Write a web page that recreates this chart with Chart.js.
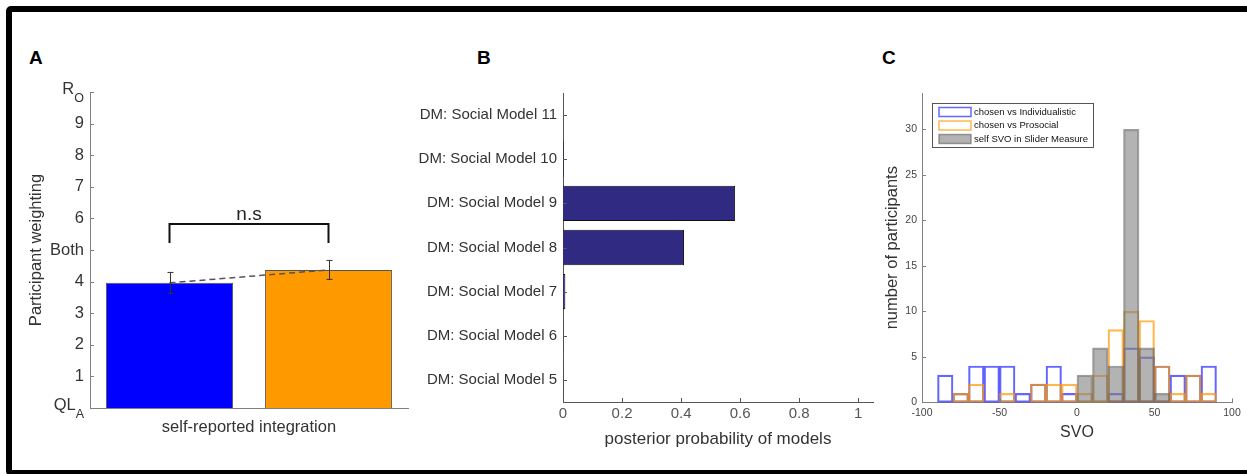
<!DOCTYPE html>
<html>
<head>
<meta charset="utf-8">
<script src="https://cdn.jsdelivr.net/npm/chart.js@4.4.1/dist/chart.umd.min.js"></script>
<style>
  body { margin: 0; background: #fff; width: 1247px; height: 474px; overflow: hidden; position: relative;
         font-family: "Liberation Sans", Arial, sans-serif; }
  .frame { position: absolute; left: 6px; top: 6px; width: 1300px; height: 470px; box-sizing: border-box;
           border: 6px solid #000; border-radius: 5px; }
  .letter { position: absolute; top: 48px; font-weight: bold; font-size: 19px; line-height: 19px; color: #000; }
  canvas { position: absolute; top: 0; }
</style>
</head>
<body>
<div class="frame"></div>
<div class="letter" style="left:29px">A</div>
<div class="letter" style="left:477px">B</div>
<div class="letter" style="left:882px">C</div>
<canvas id="chartA" width="412" height="474" style="left:0px"></canvas>
<canvas id="chartB" width="470" height="474" style="left:410px"></canvas>
<canvas id="chartC" width="367" height="474" style="left:880px"></canvas>

<script>
// ---- panel A: self-reported integration
const catsA = ["chosen vs Individualistic", "chosen vs Prosocial"];
const meansA = [3.96, 4.37];
const errA = [0.33, 0.30];
const yTicksA = ["QL", "1", "2", "3", "4", "Both", "6", "7", "8", "9", "R"];
const ySubsA = ["A", "", "", "", "", "", "", "", "", "", "O"];
const bracketA = [5.22, 5.82];
const sigTextA = "n.s";

// ---- panel B: posterior probability of models
const modelsB = ["DM: Social Model 11", "DM: Social Model 10", "DM: Social Model 9", "DM: Social Model 8",
                 "DM: Social Model 7", "DM: Social Model 6", "DM: Social Model 5"];
const probsB = [0, 0.003, 0.583, 0.41, 0.008, 0.001, 0.001];

// ---- panel C: SVO histograms (bins of 10 from -100 to 100)
const binsC = [-95, -85, -75, -65, -55, -45, -35, -25, -15, -5, 5, 15, 25, 35, 45, 55, 65, 75, 85, 95];
const individualisticC = [0, 3, 1, 4, 4, 4, 1, 2, 4, 1, 0, 0, 1, 6, 5, 4, 3, 3, 4, 0];
const prosocialC       = [0, 0, 1, 2, 0, 1, 0, 2, 2, 2, 1, 3, 8, 10, 9, 4, 1, 3, 1, 0];
const selfSvoC         = [0, 0, 0, 0, 0, 0, 0, 0, 0, 0, 3, 6, 4, 30, 6, 1, 0, 0, 0, 0];
const seriesNamesC = ["chosen vs Individualistic", "chosen vs Prosocial", "self SVO in Slider Measure"];

const FONT = "'Liberation Sans', Arial, sans-serif";
Chart.defaults.font.family = FONT;

// matlab style ticks pointing into the plot
const innerTicks = {
  id: "innerTicks",
  afterDatasetsDraw(chart, args, opts) {
    const ctx = chart.ctx;
    const len = opts.len || 4;
    ctx.save();
    ctx.lineWidth = 1;
    Object.values(chart.scales).forEach(s => {
      if (opts[s.id] === false) return;
      ctx.strokeStyle = s.options.border.color;
      s.ticks.forEach((t, i) => {
        const p = Math.round(s.getPixelForTick(i)) + 0.5;
        ctx.beginPath();
        if (s.isHorizontal()) {
          ctx.moveTo(p, s.top);
          ctx.lineTo(p, s.top - len);
        } else {
          ctx.moveTo(s.right, p);
          ctx.lineTo(s.right + len, p);
        }
        ctx.stroke();
      });
    });
    ctx.restore();
  }
};

// error bars, bracket and the y labels with subscripts
const panelAExtras = {
  id: "panelAExtras",
  afterDatasetsDraw(chart) {
    const ctx = chart.ctx;
    const y = chart.scales.y;
    const bars = chart.getDatasetMeta(0).data;
    ctx.save();
    ctx.strokeStyle = "#333";
    ctx.lineWidth = 1;
    bars.forEach((b, i) => {
      const x = Math.round(b.x) + 0.5;
      const top = y.getPixelForValue(meansA[i] + errA[i]);
      const bot = y.getPixelForValue(meansA[i] - errA[i]);
      ctx.beginPath();
      ctx.moveTo(x, top); ctx.lineTo(x, bot);
      ctx.moveTo(x - 3, top); ctx.lineTo(x + 3, top);
      ctx.moveTo(x - 3, bot); ctx.lineTo(x + 3, bot);
      ctx.stroke();
    });
    // significance bracket
    const x1 = bars[0].x, x2 = bars[1].x;
    const yTop = y.getPixelForValue(bracketA[1]);
    const yLeg = y.getPixelForValue(bracketA[0]);
    ctx.strokeStyle = "#111";
    ctx.lineWidth = 2;
    ctx.beginPath();
    ctx.moveTo(x1, yLeg); ctx.lineTo(x1, yTop); ctx.lineTo(x2, yTop); ctx.lineTo(x2, yLeg);
    ctx.stroke();
    ctx.fillStyle = "#222";
    ctx.font = "19px " + FONT;
    ctx.textAlign = "center";
    ctx.textBaseline = "alphabetic";
    ctx.fillText(sigTextA, (x1 + x2) / 2, yTop - 4);
    ctx.restore();
  },
  afterDraw(chart) {
    const ctx = chart.ctx;
    const y = chart.scales.y;
    const xr = y.right - 6;
    ctx.save();
    ctx.fillStyle = "#333";
    ctx.textAlign = "right";
    ctx.textBaseline = "middle";
    yTicksA.forEach((lab, v) => {
      const py = y.getPixelForValue(v);
      const sub = ySubsA[v];
      if (sub) {
        ctx.font = "12.5px " + FONT;
        const sw = ctx.measureText(sub).width;
        ctx.fillText(sub, xr, py + 7);
        ctx.font = "16.5px " + FONT;
        ctx.fillText(lab, xr - sw, py - 3);
      } else {
        ctx.font = "16.5px " + FONT;
        ctx.fillText(lab, xr, py);
      }
    });
    ctx.restore();
  }
};

const noGrid = { display: false, drawTicks: false };

new Chart(document.getElementById("chartA"), {
  type: "bar",
  data: {
    labels: catsA,
    datasets: [
      { type: "bar", data: meansA, backgroundColor: ["#0000ff", "#ff9900"], borderColor: "#555",
        borderWidth: 1, barPercentage: 0.8, categoryPercentage: 1, order: 2 },
      { type: "line", data: meansA, borderColor: "#555", borderWidth: 1.5, borderDash: [6, 4],
        pointRadius: 0, order: 1 }
    ]
  },
  options: {
    responsive: false,
    animation: false,
    layout: { padding: { left: 27, right: 4, top: 92, bottom: 37 } },
    plugins: { legend: { display: false }, tooltip: { enabled: false }, innerTicks: { x: false } },
    scales: {
      x: {
        grid: noGrid,
        border: { color: "#808080" },
        ticks: { display: false },
        title: { display: true, text: "self-reported integration", font: { size: 16.5 }, color: "#333", padding: 0 },
        afterFit(s) { s.height = 29; }
      },
      y: {
        min: 0, max: 10,
        ticks: { display: false, stepSize: 1 },
        grid: noGrid,
        border: { color: "#808080" },
        title: { display: true, text: "Participant weighting", font: { size: 16.5 }, color: "#333", padding: 0 },
        afterFit(s) { s.width = 63; }
      }
    }
  },
  plugins: [innerTicks, panelAExtras]
});

new Chart(document.getElementById("chartB"), {
  type: "bar",
  data: {
    labels: modelsB,
    datasets: [{
      data: probsB, backgroundColor: "#312a82", borderColor: "#111", borderWidth: 1,
      barPercentage: 0.8, categoryPercentage: 1
    }]
  },
  options: {
    indexAxis: "y",
    responsive: false,
    animation: false,
    layout: { padding: { left: 0, right: 7, top: 93, bottom: 24 } },
    plugins: { legend: { display: false }, tooltip: { enabled: false } },
    scales: {
      y: {
        grid: noGrid,
        border: { color: "#555" },
        ticks: { color: "#333", font: { size: 15 }, padding: 6 },
        afterFit(s) { s.width = 153; }
      },
      x: {
        min: 0, max: 1.05,
        ticks: { stepSize: 0.2, includeBounds: false, color: "#555", font: { size: 15 }, padding: 3,
                 callback: v => String(Number(v.toFixed(2))) },
        grid: noGrid,
        border: { color: "#555" },
        title: { display: true, text: "posterior probability of models", font: { size: 17 }, color: "#333", padding: 0 },
        afterFit(s) { s.height = 48; }
      }
    }
  },
  plugins: [innerTicks]
});

// legend box drawn inside the plot, matlab style
const boxLegend = {
  id: "boxLegend",
  afterDraw(chart) {
    const ctx = chart.ctx;
    const a = chart.chartArea;
    const x0 = a.left + 10, y0 = a.top + 10, w = 161, h = 44;
    ctx.save();
    ctx.fillStyle = "#fff";
    ctx.fillRect(x0, y0, w, h);
    ctx.strokeStyle = "#555";
    ctx.lineWidth = 1;
    ctx.strokeRect(x0 + 0.5, y0 + 0.5, w, h);
    ctx.font = "9.5px " + FONT;
    ctx.textBaseline = "middle";
    chart.data.datasets.forEach((ds, i) => {
      const ry = y0 + 9 + i * 13.5;
      ctx.fillStyle = ds.backgroundColor;
      ctx.fillRect(x0 + 7, ry - 4.5, 32, 9);
      ctx.strokeStyle = ds.borderColor;
      ctx.lineWidth = 1.5;
      ctx.strokeRect(x0 + 7, ry - 4.5, 32, 9);
      ctx.fillStyle = "#111";
      ctx.fillText(ds.label, x0 + 42, ry);
    });
    ctx.restore();
  }
};

const toPoints = arr => binsC.map((x, i) => ({ x: x, y: arr[i] }));

new Chart(document.getElementById("chartC"), {
  type: "bar",
  data: {
    datasets: [
      { label: seriesNamesC[0], data: toPoints(individualisticC), backgroundColor: "rgba(255,255,255,0)",
        borderColor: "rgba(0,0,255,0.6)", borderWidth: 1.5, borderSkipped: false, order: 3 },
      { label: seriesNamesC[1], data: toPoints(prosocialC), backgroundColor: "rgba(255,255,255,0)",
        borderColor: "rgba(255,153,0,0.7)", borderWidth: 1.5, borderSkipped: false, order: 2 },
      { label: seriesNamesC[2], data: toPoints(selfSvoC), backgroundColor: "rgba(128,128,128,0.6)",
        borderColor: "rgba(95,95,95,0.6)", borderWidth: 1.5, borderSkipped: false, order: 1 }
    ]
  },
  options: {
    responsive: false,
    animation: false,
    layout: { padding: { left: 3, right: 15, top: 93, bottom: 32 } },
    datasets: { bar: { grouped: false, barPercentage: 1, categoryPercentage: 1 } },
    plugins: { legend: { display: false }, tooltip: { enabled: false } },
    scales: {
      x: {
        type: "linear", min: -100, max: 100, offset: false,
        ticks: { stepSize: 50, color: "#444", font: { size: 10.5 }, padding: 4 },
        grid: noGrid,
        border: { color: "#808080" },
        title: { display: true, text: "SVO", font: { size: 16 }, color: "#333", padding: 0 },
        afterFit(s) { s.height = 39.6; }
      },
      y: {
        min: 0, max: 34,
        ticks: { stepSize: 5, includeBounds: false, color: "#444", font: { size: 10.5 }, padding: 5 },
        grid: noGrid,
        border: { color: "#808080" },
        title: { display: true, text: "number of participants", font: { size: 16.5 }, color: "#333", padding: 0 },
        afterFit(s) { s.width = 39; }
      }
    }
  },
  plugins: [innerTicks, boxLegend]
});
</script>
</body>
</html>
